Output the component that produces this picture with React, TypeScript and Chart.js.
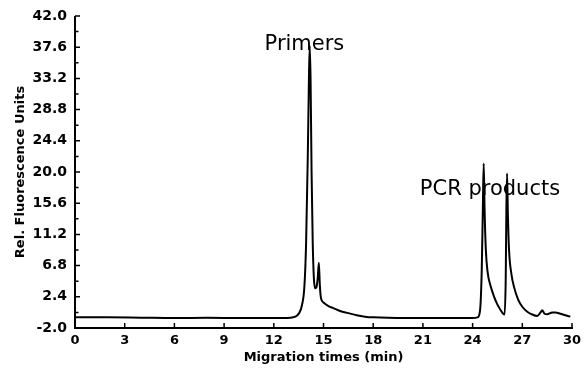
import React, { useEffect, useRef } from "react";
import { Chart, registerables } from "chart.js";

Chart.register(...registerables);

// Migration time (min) and relative fluorescence
const times = [
  0, 2, 4, 6, 8, 10, 12, 13.0, 13.3, 13.5, 13.7, 13.85, 13.95, 14.05, 14.12, 14.17,
  14.22, 14.28, 14.35, 14.42, 14.5, 14.58, 14.65, 14.72, 14.78, 14.85, 15.0, 15.3,
  15.6, 16.0, 16.5, 17.0, 17.5, 18, 20, 22, 24, 24.3, 24.45, 24.55, 24.62, 24.67,
  24.72, 24.8, 24.9, 25.1, 25.3, 25.5, 25.7, 25.85, 25.93, 26.0, 26.04, 26.08, 26.13,
  26.2, 26.35, 26.5, 26.75, 27.0, 27.3, 27.6, 27.9, 28.1, 28.2, 28.35, 28.5, 28.8,
  29.0, 29.3, 29.6, 29.9,
];
const fluorescence = [
  -0.5, -0.5, -0.55, -0.6, -0.55, -0.6, -0.6, -0.55, -0.4, 0.0, 1.2, 4.0, 10, 22, 33, 37.8,
  33, 20, 10, 5, 3.6, 3.8, 5, 7.2, 4, 2.2, 1.6, 1.1,
  0.8, 0.4, 0.1, -0.2, -0.4, -0.5, -0.6, -0.6, -0.6, -0.5, 0.5, 6, 15, 21.2,
  15, 9, 6, 3.8, 2.4, 1.3, 0.5, 0.0, -0.1, 5, 15, 19.8, 14,
  9, 5.5, 3.8, 2.0, 1.0, 0.3, -0.1, -0.3, 0.2, 0.5, 0.0, -0.05, 0.2,
  0.2, 0.0, -0.2, -0.4,
];

const yTicks = [-2.0, 2.4, 6.8, 11.2, 15.6, 20.0, 24.4, 28.8, 33.2, 37.6, 42.0];
const xTicks = [0, 3, 6, 9, 12, 15, 18, 21, 24, 27, 30];

const annotations = [
  { text: "Primers", x: 13.85, y: 37.2 },
  { text: "PCR products", x: 25.05, y: 16.8 },
];

const FONT = '"DejaVu Sans", sans-serif';

const axesPlugin = {
  id: "customAxes",
  afterDraw(chart: any) {
    const ctx = chart.ctx;
    const xs = chart.scales.x;
    const ys = chart.scales.y;
    const left = chart.chartArea.left;
    const bottom = chart.chartArea.bottom;
    ctx.save();
    ctx.strokeStyle = "#000";
    ctx.lineWidth = 2;
    ctx.beginPath();
    ctx.moveTo(left, ys.getPixelForValue(42));
    ctx.lineTo(left, bottom);
    ctx.lineTo(xs.getPixelForValue(30) + 1, bottom);
    ctx.stroke();
    ctx.lineWidth = 1.5;
    ctx.beginPath();
    yTicks.forEach((v, i) => {
      const py = ys.getPixelForValue(v);
      ctx.moveTo(left, py);
      ctx.lineTo(left + 5, py);
      if (i < yTicks.length - 1) {
        const pm = ys.getPixelForValue((v + yTicks[i + 1]) / 2);
        ctx.moveTo(left, pm);
        ctx.lineTo(left + 3.5, pm);
      }
    });
    xTicks.forEach((v) => {
      const px = xs.getPixelForValue(v);
      ctx.moveTo(px, bottom);
      ctx.lineTo(px, bottom - 5);
    });
    ctx.stroke();
    ctx.fillStyle = "#000";
    ctx.font = "21px " + FONT;
    ctx.textAlign = "center";
    ctx.textBaseline = "alphabetic";
    annotations.forEach((a) => {
      ctx.fillText(a.text, xs.getPixelForValue(a.x), ys.getPixelForValue(a.y));
    });
    ctx.restore();
  },
};

export default function App() {
  const ref = useRef<HTMLCanvasElement | null>(null);
  useEffect(() => {
    document.body.style.margin = "0";
    const canvas = ref.current;
    if (!canvas) return;
    const chart = new Chart(canvas, {
      type: "scatter",
      data: {
        datasets: [
          {
            data: times.map((t, i) => ({ x: t, y: fluorescence[i] })),
            showLine: true,
            borderColor: "#000",
            borderWidth: 2,
            pointRadius: 0,
            cubicInterpolationMode: "monotone",
            fill: false,
          },
        ],
      },
      options: {
        responsive: false,
        animation: false,
        devicePixelRatio: 1,
        layout: { padding: { top: 16, right: 14, left: 0, bottom: 0 } },
        plugins: { legend: { display: false }, tooltip: { enabled: false } },
        scales: {
          x: {
            type: "linear",
            min: 0,
            max: 30,
            grid: { display: false, drawTicks: false },
            border: { display: false },
            afterBuildTicks: (s: any) => {
              s.ticks = xTicks.map((v) => ({ value: v }));
            },
            afterFit: (s: any) => {
              s.height = 40;
              s.paddingLeft = 0;
              s.paddingRight = 14;
            },
            ticks: {
              padding: 5,
              color: "#000",
              maxRotation: 0,
              autoSkip: false,
              font: { family: FONT, size: 13, weight: "bold" },
              callback: (v: any) => String(v),
            },
            title: {
              display: true,
              text: "Migration times (min)",
              color: "#000",
              padding: { top: 0, bottom: 3 },
              font: { family: FONT, size: 13, weight: "bold" },
            },
          },
          y: {
            type: "linear",
            min: -2,
            max: 42,
            grid: { display: false, drawTicks: false },
            border: { display: false },
            afterBuildTicks: (s: any) => {
              s.ticks = yTicks.map((v) => ({ value: v }));
            },
            afterFit: (s: any) => {
              s.width = 75;
              s.paddingTop = 16;
              s.paddingBottom = 0;
            },
            ticks: {
              padding: 8,
              color: "#000",
              autoSkip: false,
              font: { family: FONT, size: 14, weight: "bold" },
              callback: (v: any) => Number(v).toFixed(1),
            },
            title: {
              display: true,
              text: "Rel. Fluorescence Units",
              color: "#000",
              padding: { top: 13, bottom: 0 },
              font: { family: FONT, size: 13, weight: "bold" },
            },
          },
        },
      },
      plugins: [axesPlugin],
    } as any);
    return () => chart.destroy();
  }, []);
  return (
    <div style={{ width: 586, height: 368, position: "relative" }}>
      <canvas ref={ref} width={586} height={368} />
    </div>
  );
}
